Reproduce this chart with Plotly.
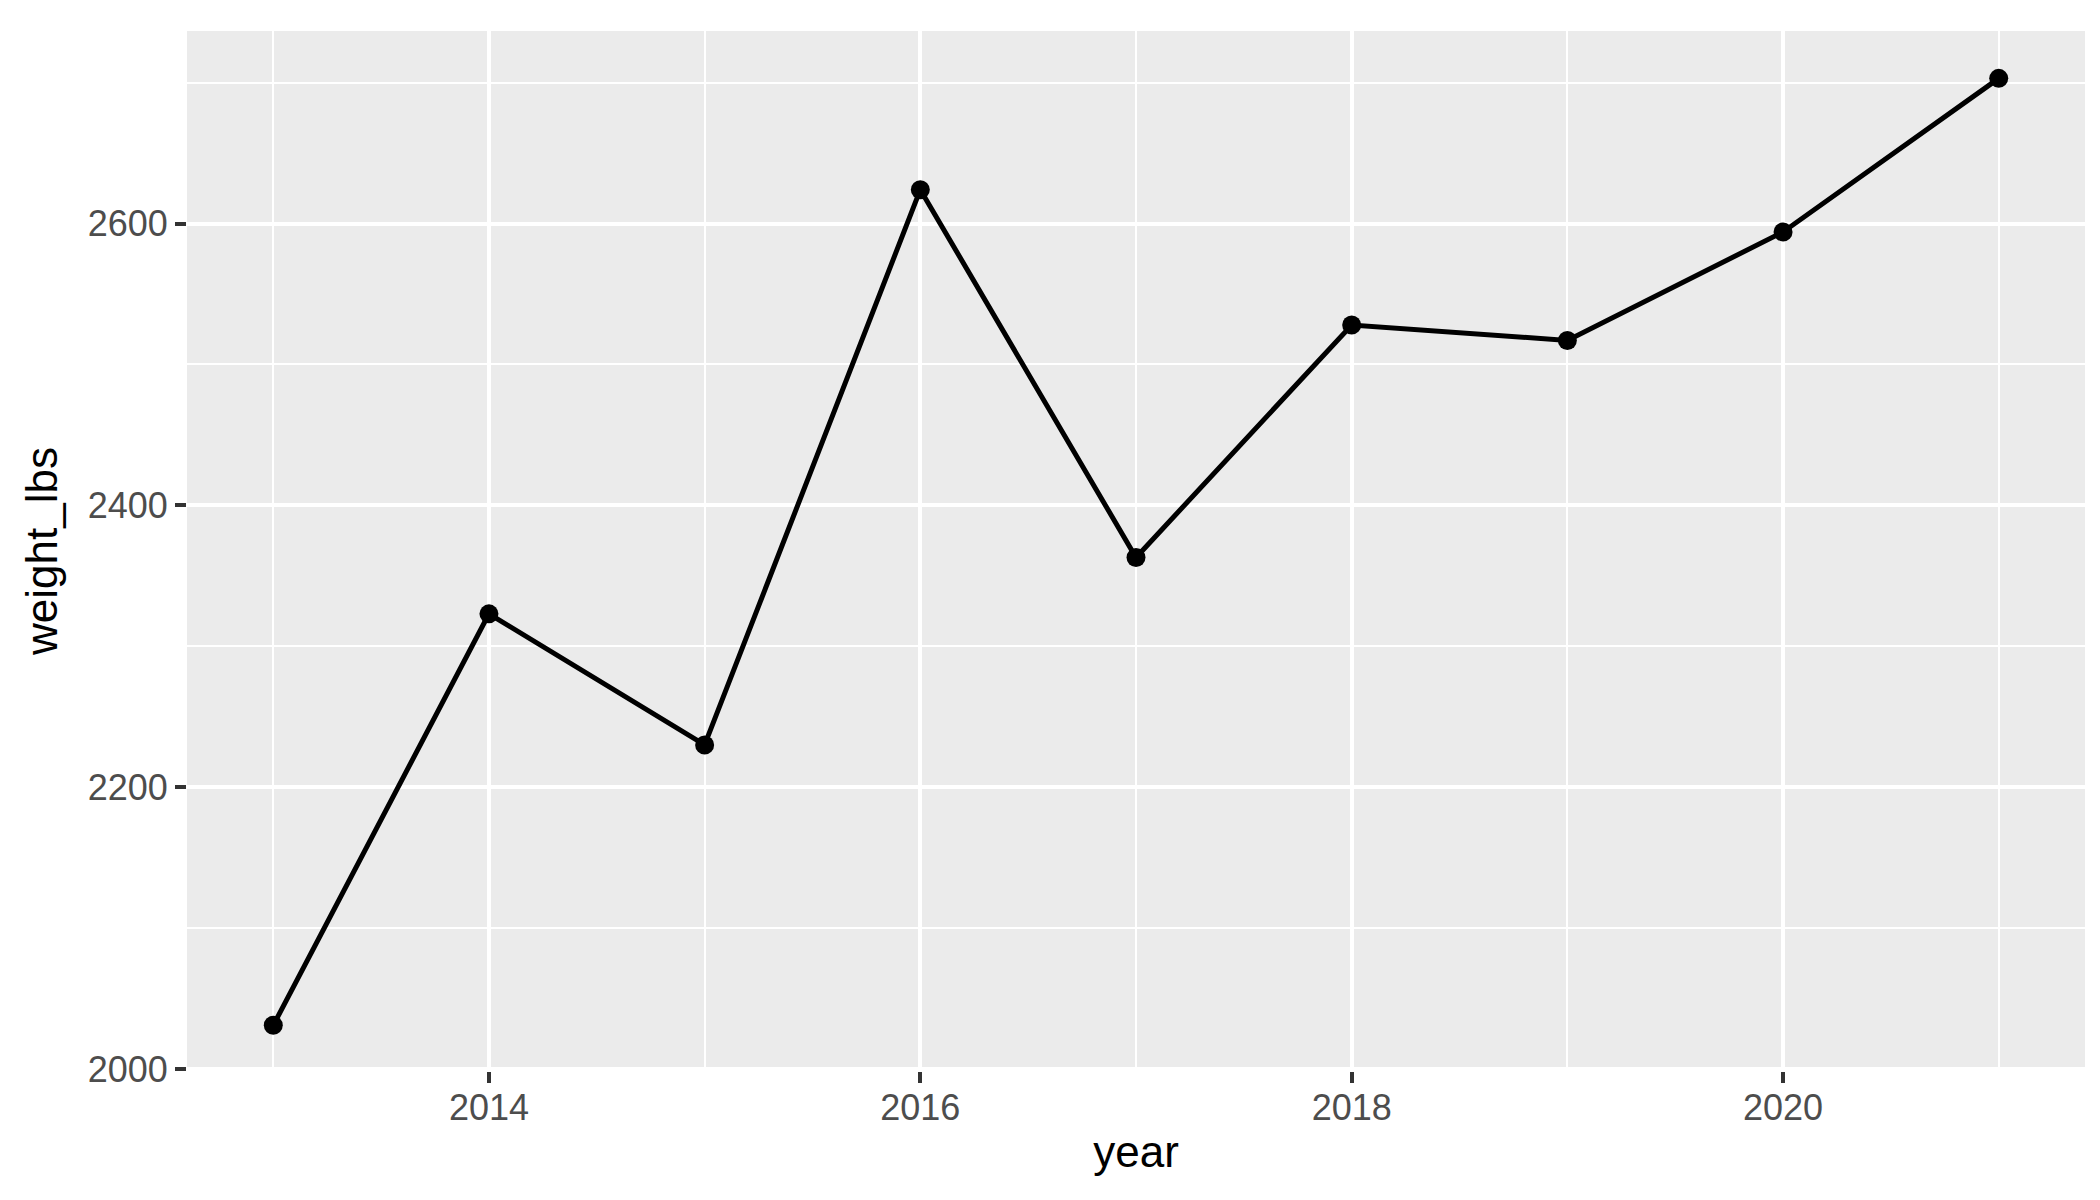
import plotly.graph_objects as go

year = [2013, 2014, 2015, 2016, 2017, 2018, 2019, 2020, 2021]
weight_lbs = [2031, 2323, 2230, 2624, 2363, 2528, 2517, 2594, 2703]

x_ticks = [2014, 2016, 2018, 2020]
y_ticks = [2000, 2200, 2400, 2600]

fig = go.Figure(go.Scatter(
    x=year, y=weight_lbs, mode="lines+markers",
    line=dict(color="black", width=5),
    marker=dict(color="black", size=19),
))

axis_common = dict(
    showgrid=True, gridcolor="white", gridwidth=4,
    zeroline=False, showline=False,
    ticks="outside", ticklen=11, tickwidth=4, tickcolor="#333333",
    tickfont=dict(family="Liberation Sans", size=36, color="#4D4D4D"),
    title_font=dict(family="Liberation Sans", size=44, color="black"),
)

fig.update_xaxes(
    axis_common, range=[2012.6, 2021.4],
    tickvals=x_ticks, title_text="year", title_standoff=8,
    ticklabelstandoff=-6,
    minor=dict(dtick=1, tick0=2013, showgrid=True, gridcolor="white", gridwidth=2.2),
)
fig.update_yaxes(
    axis_common, range=[1998.6, 2736.6],
    tickvals=y_ticks, title_text="weight_lbs", title_standoff=16,
    minor=dict(dtick=100, tick0=2000, showgrid=True, gridcolor="white", gridwidth=2.2),
)

fig.update_layout(
    width=2100, height=1200,
    paper_bgcolor="white", plot_bgcolor="#EBEBEB",
    margin=dict(l=179, r=23, t=23, b=137),
    showlegend=False,
)

fig.write_html("out.html")
